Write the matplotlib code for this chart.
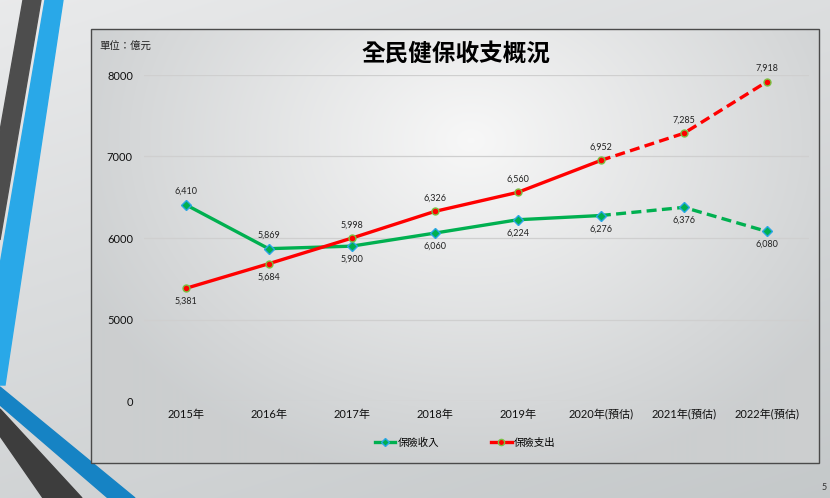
import numpy as np
import matplotlib
matplotlib.use("Agg")
import matplotlib.pyplot as plt
from matplotlib.patches import Polygon, Rectangle
from matplotlib.lines import Line2D

plt.rcParams['font.family'] = ['Lato', 'Noto Sans CJK TC', 'DejaVu Sans']
CJK = ['Noto Sans CJK TC', 'DejaVu Sans']

# ---- data ----
categories = ['2015年', '2016年', '2017年', '2018年', '2019年',
              '2020年(預估)', '2021年(預估)', '2022年(預估)']
income = [6410, 5869, 5900, 6060, 6224, 6276, 6376, 6080]
expense = [5381, 5684, 5998, 6326, 6560, 6952, 7285, 7918]
income_label_pos = ['above', 'above', 'below', 'below', 'below', 'below', 'below', 'below']
expense_label_pos = ['below', 'below', 'above', 'above', 'above', 'above', 'above', 'above']
yticks = [0, 5000, 6000, 7000, 8000]
n_actual = 6  # solid through index 5 (2020), dashed after

W, H = 830, 498
fig = plt.figure(figsize=(W / 100, H / 100), dpi=100)

# ---- background ----
bg = fig.add_axes([0, 0, 1, 1])
bg.set_xlim(0, W)
bg.set_ylim(H, 0)
bg.axis('off')
yy, xx = np.mgrid[0:H, 0:W]
t = (xx / W * 0.35 + yy / H * 0.65)
c0 = np.array([0.915, 0.918, 0.922])
c1 = np.array([0.77, 0.785, 0.79])
img = c0[None, None, :] * (1 - t[..., None]) + c1[None, None, :] * t[..., None]
bg.imshow(img, extent=(0, W, H, 0), aspect='auto', zorder=0)

# stripes top-left
bg.add_patch(Polygon([[23, 0], [41, 0], [0, 240], [0, 131]], closed=True, color='#4d4d4d', zorder=1))
bg.add_patch(Polygon([[45, 0], [63, 0], [5, 385], [0, 385], [0, 265]], closed=True, color='#29a8e8', zorder=1))
# stripes bottom-left
bg.add_patch(Polygon([[0, 387], [135, 498], [108, 498], [0, 405]], closed=True, color='#1683c4', zorder=1))
bg.add_patch(Polygon([[0, 409], [82, 498], [43, 498], [0, 436]], closed=True, color='#3d3d3d', zorder=1))

# chart box with radial gradient
bx0, by0, bx1, by1 = 91, 29, 819, 463
cy, cx = np.mgrid[by0:by1, bx0:bx1]
r = np.sqrt(((cx - 470) / 430.0) ** 2 + ((cy - 140) / 340.0) ** 2)
r = np.clip(r, 0, 1)
ci = np.array([0.97, 0.97, 0.97])
co = np.array([0.80, 0.81, 0.815])
cimg = ci[None, None, :] * (1 - r[..., None]) + co[None, None, :] * r[..., None]
bg.imshow(cimg, extent=(bx0, bx1, by1, by0), aspect='auto', zorder=2)
bg.add_patch(Rectangle((bx0, by0), bx1 - bx0, by1 - by0, fill=False,
                       edgecolor='#4a4a4a', linewidth=1.0, zorder=3))

bg.text(456, 54, '全民健保收支概況', ha='center', va='center', fontsize=17,
        fontweight='bold', color='black', zorder=4, family=CJK)
bg.text(99, 47, '單位：億元', ha='left', va='center', fontsize=7.5, color='#222222',
        zorder=4, family=CJK)
bg.text(824, 487, '5', ha='center', va='center', fontsize=6.5, color='#333333', zorder=4)

# ---- plot axes ----
ax = fig.add_axes([144 / W, 1 - 401 / H, (808.5 - 144) / W, (401 - 75) / H])
ax.patch.set_alpha(0)


def fwd(v):
    v = np.asarray(v, dtype=float)
    return np.where(v < 5000, v / 5000.0, 1 + (v - 5000) / 1000.0)


def inv(u):
    u = np.asarray(u, dtype=float)
    return np.where(u < 1, u * 5000.0, 5000 + (u - 1) * 1000.0)


ax.set_yscale('function', functions=(fwd, inv))
ax.set_ylim(0, 8000)
ax.set_xlim(-0.5, len(categories) - 0.5)
x = np.arange(len(categories))

green = '#00b050'
red = '#ff0000'
lw = 2.4

# income
ax.plot(x[:n_actual], income[:n_actual], color=green, lw=lw, zorder=3, solid_capstyle='round')
ax.plot(x[n_actual - 1:], income[n_actual - 1:], color=green, lw=lw, ls=(0, (3, 1.6)), zorder=3)
ax.plot(x, income, ls='none', marker='D', ms=5, mfc=green, mec='#2aa6e6', mew=1.0, zorder=4)
# expense
ax.plot(x[:n_actual], expense[:n_actual], color=red, lw=lw, zorder=3, solid_capstyle='round')
ax.plot(x[n_actual - 1:], expense[n_actual - 1:], color=red, lw=lw, ls=(0, (3, 1.6)), zorder=3)
ax.plot(x, expense, ls='none', marker='o', ms=5, mfc=red, mec='#7ac143', mew=1.0, zorder=4)

for xi, v, p in zip(x, income, income_label_pos):
    off = 9.5 if p == 'above' else -9.5
    ax.annotate(f'{v:,}', (xi, v), xytext=(0, off), textcoords='offset points',
                ha='center', va='center', fontsize=6.5, color='#222222', zorder=5)
for xi, v, p in zip(x, expense, expense_label_pos):
    off = 9.5 if p == 'above' else -9.5
    ax.annotate(f'{v:,}', (xi, v), xytext=(0, off), textcoords='offset points',
                ha='center', va='center', fontsize=6.5, color='#222222', zorder=5)

ax.set_yticks(yticks)
ax.set_yticklabels([str(v) for v in yticks])
ax.set_xticks(x)
ax.set_xticklabels(categories)
ax.tick_params(axis='both', length=0, labelsize=8, colors='#111111')
ax.tick_params(axis='y', pad=8)
ax.tick_params(axis='x', pad=6)
ax.grid(axis='y', color='#cfcfcf', lw=0.9)
ax.set_axisbelow(True)
for s in ax.spines.values():
    s.set_visible(False)

handles = [Line2D([0], [0], color=green, lw=lw, marker='D', ms=4.5, mfc=green, mec='#2aa6e6'),
           Line2D([0], [0], color=red, lw=lw, marker='o', ms=4.5, mfc=red, mec='#7ac143')]
fig.legend(handles, ['保險收入', '保險支出'], loc='center', bbox_to_anchor=(465 / W, 1 - 443 / H),
           ncol=2, frameon=False, prop={'family': CJK, 'size': 7.5}, handlelength=2.0,
           handletextpad=0.2, columnspacing=5.0)

fig.savefig('out.png', dpi=100)
